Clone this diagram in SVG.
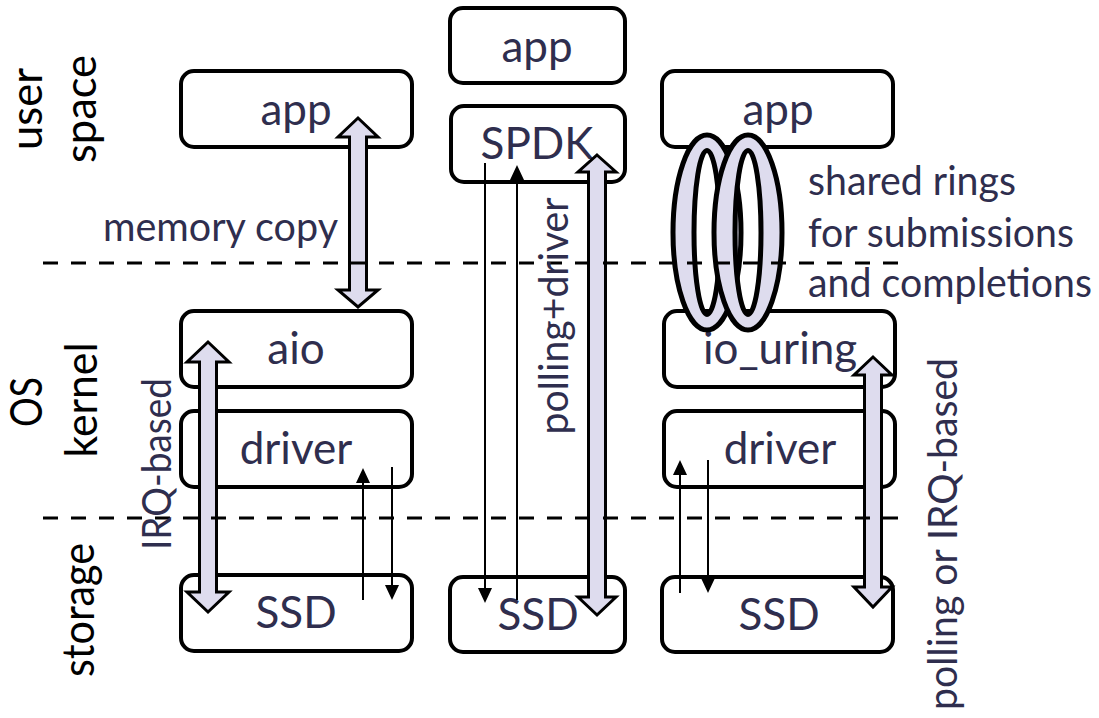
<svg xmlns="http://www.w3.org/2000/svg" width="1099" height="718" viewBox="0 0 1099 718">
  <style>
    .box { fill: #ffffff; stroke: #000000; stroke-width: 4; }
    .lbl { font-family: Lato, "Open Sans", "Liberation Sans", sans-serif; font-size: 44px; fill: #2f2e4e; text-anchor: middle; }
    .note { font-family: Lato, "Open Sans", "Liberation Sans", sans-serif; font-size: 40px; fill: #2f2e4e; }
    .side { font-family: Lato, "Open Sans", "Liberation Sans", sans-serif; font-size: 45px; fill: #000000; text-anchor: middle; }
    .wide { fill: #dedcee; stroke: #000000; stroke-width: 3; stroke-linejoin: miter; }
    .thin { stroke: #000000; stroke-width: 2; fill: none; marker-end: url(#tip); }
    .ring { fill: #dedcee; fill-rule: evenodd; stroke: #000000; stroke-width: 5; }
    .layer { stroke: #000000; stroke-width: 3; stroke-dasharray: 15 13; fill: none; }
  </style>
  <defs>
    <marker id="tip" markerUnits="userSpaceOnUse" markerWidth="16" markerHeight="16" refX="12" refY="7" orient="auto">
      <path d="M0,0 L15,7 L0,14 Z" fill="#000000"/>
    </marker>
  </defs>

  <rect width="1099" height="718" fill="#ffffff"/>

  <!-- layer captions -->
  <g id="captions">
    <text class="side" transform="translate(42,109) rotate(-90)" textLength="82" lengthAdjust="spacingAndGlyphs">user</text>
    <text class="side" transform="translate(96,109) rotate(-90)" textLength="108" lengthAdjust="spacingAndGlyphs">space</text>
    <text class="side" transform="translate(42,402) rotate(-90)" textLength="50" lengthAdjust="spacingAndGlyphs">OS</text>
    <text class="side" transform="translate(97,400) rotate(-90)" textLength="115" lengthAdjust="spacingAndGlyphs">kernel</text>
    <text class="side" transform="translate(94,610) rotate(-90)" textLength="134" lengthAdjust="spacingAndGlyphs">storage</text>
  </g>

  <!-- aio stack -->
  <g id="aio-app"><rect class="box" x="181" y="71" width="231" height="76" rx="13"/><text class="lbl" x="296" y="125">app</text></g>
  <g id="aio"><rect class="box" x="181" y="311" width="231" height="76" rx="13"/><text class="lbl" x="296" y="364">aio</text></g>
  <g id="aio-driver"><rect class="box" x="181" y="411" width="231" height="76" rx="13"/><text class="lbl" x="296" y="464">driver</text></g>
  <g id="aio-ssd"><rect class="box" x="181" y="575" width="231" height="76" rx="13"/><text class="lbl" x="296" y="628">SSD</text></g>

  <!-- SPDK stack -->
  <g id="spdk-app"><rect class="box" x="450" y="8" width="175" height="75" rx="13"/><text class="lbl" x="537" y="62">app</text></g>
  <g id="spdk"><rect class="box" x="451" y="106" width="174" height="76" rx="13"/><text class="lbl" x="537" y="159">SPDK</text></g>
  <g id="spdk-ssd"><rect class="box" x="450" y="577" width="175" height="75" rx="13"/><text class="lbl" x="538" y="630">SSD</text></g>

  <!-- io_uring stack -->
  <g id="uring-app"><rect class="box" x="662" y="71" width="231" height="76" rx="13"/><text class="lbl" x="778" y="125">app</text></g>
  <g id="io-uring"><rect class="box" x="664" y="311" width="231" height="76" rx="13"/><text class="lbl" x="780" y="364">io_uring</text></g>
  <g id="uring-driver"><rect class="box" x="664" y="411" width="231" height="76" rx="13"/><text class="lbl" x="780" y="464">driver</text></g>
  <g id="uring-ssd"><rect class="box" x="662" y="577" width="231" height="75" rx="13"/><text class="lbl" x="779" y="630">SSD</text></g>

  <!-- connectors -->
  <g id="connectors">
    <line class="thin" x1="363" y1="600" x2="363" y2="471"/>
    <line class="thin" x1="392" y1="467" x2="392" y2="597"/>
    <line class="thin" x1="485" y1="163" x2="485" y2="600"/>
    <line class="thin" x1="517" y1="600" x2="517" y2="168"/>
    <line class="thin" x1="680" y1="593" x2="680" y2="463"/>
    <line class="thin" x1="708" y1="460" x2="708" y2="590"/>

    <path class="wide" d="M358,118 L378,137 L366.5,137 L366.5,290 L378,290 L358,307 L338,290 L349.5,290 L349.5,137 L338,137 Z"/>
    <path class="wide" d="M208,342 L229,362 L216.5,362 L216.5,592 L229,592 L208,612 L187,592 L199.5,592 L199.5,362 L187,362 Z"/>
    <path class="wide" d="M597,155 L616,172 L605.5,172 L605.5,597 L616,597 L597,615 L578,597 L588.5,597 L588.5,172 L578,172 Z"/>
    <path class="wide" d="M873,357 L892,375 L881.5,375 L881.5,587 L892,587 L873,607 L854,587 L864.5,587 L864.5,375 L854,375 Z"/>
  </g>

  <!-- shared submission / completion rings -->
  <g id="rings">
    <path class="ring" d="M673,232.5 A34,97.5 0 1,0 741,232.5 A34,97.5 0 1,0 673,232.5 Z M694,232.5 A13,82 0 1,0 720,232.5 A13,82 0 1,0 694,232.5 Z"/>
    <path class="ring" d="M714,232.5 A34,97.5 0 1,0 782,232.5 A34,97.5 0 1,0 714,232.5 Z M735,232.5 A13,82 0 1,0 761,232.5 A13,82 0 1,0 735,232.5 Z"/>
  </g>

  <!-- layer boundaries -->
  <g id="boundaries">
    <line class="layer" x1="43" y1="263" x2="898" y2="263"/>
    <line class="layer" x1="43" y1="518" x2="898" y2="518"/>
  </g>

  <!-- annotations -->
  <g id="notes">
    <text class="note" x="103" y="241" textLength="235" lengthAdjust="spacingAndGlyphs">memory copy</text>
    <text class="note" x="808" y="195" textLength="208" lengthAdjust="spacingAndGlyphs">shared rings</text>
    <text class="note" x="808" y="247" textLength="266" lengthAdjust="spacingAndGlyphs">for submissions</text>
    <text class="note" x="808" y="297" textLength="284" lengthAdjust="spacingAndGlyphs">and completions</text>
    <text class="note" text-anchor="middle" transform="translate(171,464) rotate(-90)" textLength="172" lengthAdjust="spacingAndGlyphs">IRQ-based</text>
    <text class="note" text-anchor="middle" transform="translate(568,316) rotate(-90)" textLength="237" lengthAdjust="spacingAndGlyphs">polling+driver</text>
    <text class="note" text-anchor="middle" transform="translate(957,534) rotate(-90)" textLength="352" lengthAdjust="spacingAndGlyphs">polling or IRQ-based</text>
  </g>
</svg>
